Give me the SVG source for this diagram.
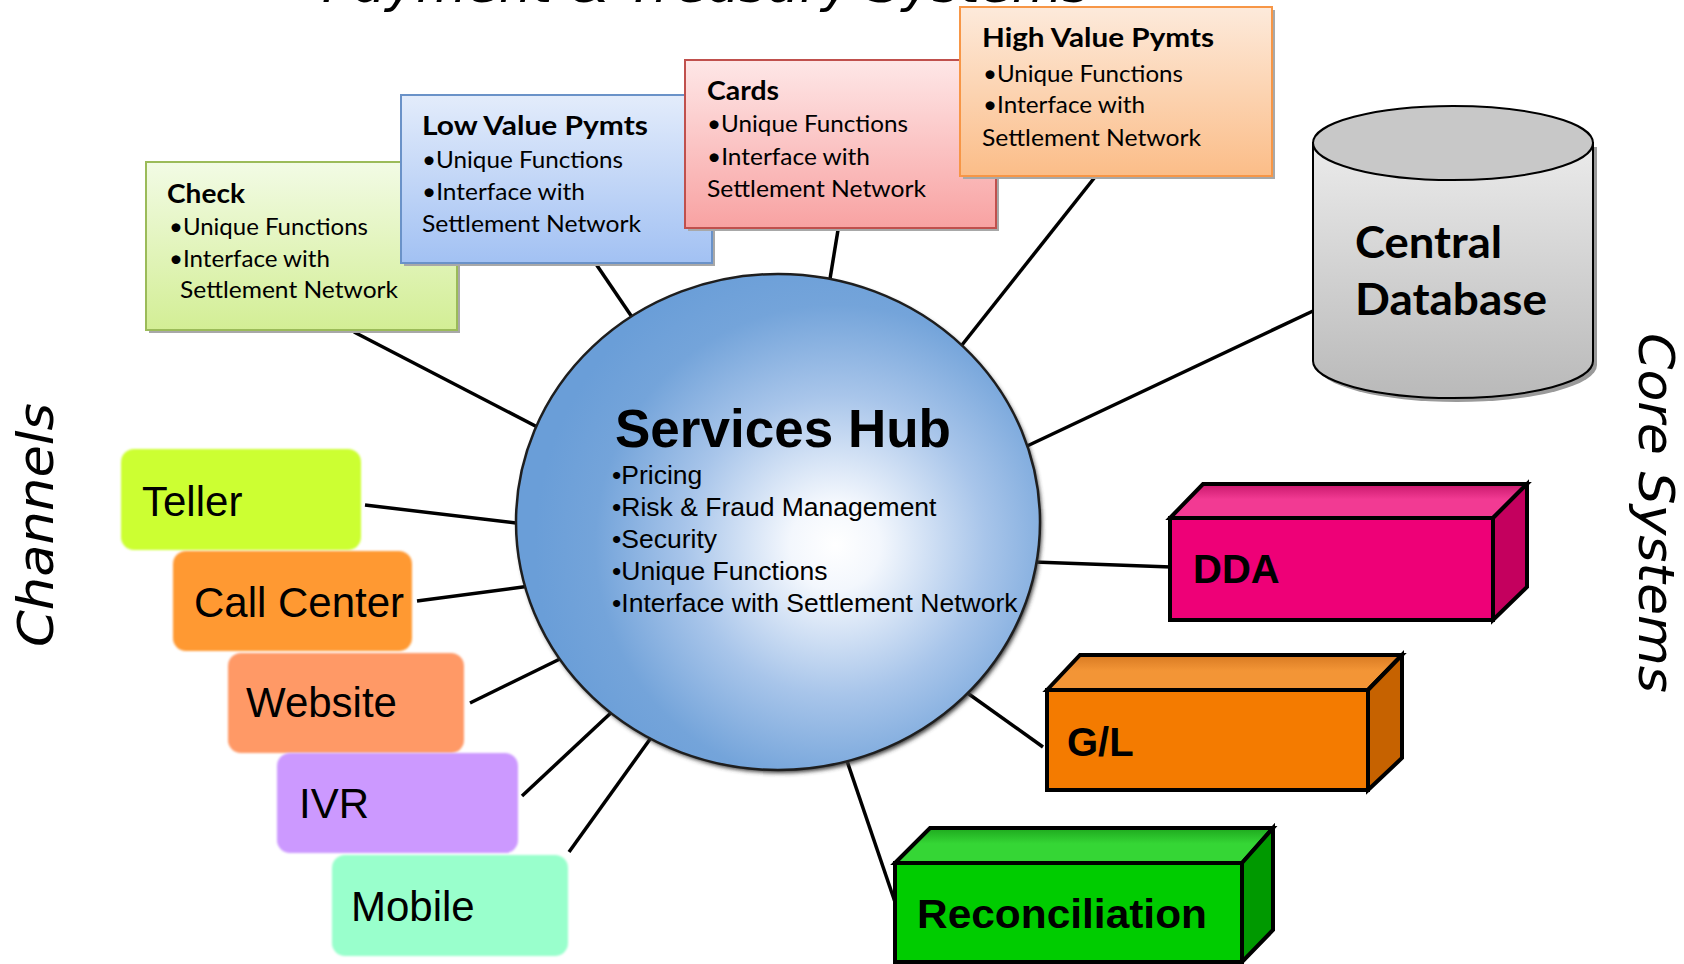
<svg xmlns="http://www.w3.org/2000/svg" width="1684" height="964" viewBox="0 0 1684 964">
<defs>
<style>
.conn{stroke:#000;stroke-width:3.5;fill:none}
.pt{font-family:Lato,"Open Sans","Liberation Sans",sans-serif;fill:#000}
.h{font-weight:bold;font-size:26px}
.b{font-size:24px}
.ch{font-family:"Liberation Sans",Arial,sans-serif;font-size:42px;fill:#000}
.cs{font-family:"Liberation Sans",Arial,sans-serif;font-weight:bold;font-size:40px;fill:#000}
.hubt{font-family:"Liberation Sans",Arial,sans-serif;fill:#000}
.lbl{font-family:"DejaVu Sans",sans-serif;font-style:italic;font-weight:200;font-size:50px;fill:#000}
.cube{stroke:#000;stroke-width:4;stroke-linejoin:miter}
.shd{fill:#a8a8a8}
.soft{filter:url(#soft)}
</style>
<linearGradient id="gCheck" x1="0" y1="0" x2="0" y2="1"><stop offset="0" stop-color="#f2fbe5"/><stop offset="1" stop-color="#d3ee95"/></linearGradient>
<linearGradient id="gLow" x1="0" y1="0" x2="0" y2="1"><stop offset="0" stop-color="#e3ecfb"/><stop offset="1" stop-color="#a2c1f3"/></linearGradient>
<linearGradient id="gCards" x1="0" y1="0" x2="0" y2="1"><stop offset="0" stop-color="#fee7e7"/><stop offset="1" stop-color="#f8a2a2"/></linearGradient>
<linearGradient id="gHigh" x1="0" y1="0" x2="0" y2="1"><stop offset="0" stop-color="#fdeadb"/><stop offset="1" stop-color="#fbbd88"/></linearGradient>
<linearGradient id="gDb" x1="0" y1="0" x2="0" y2="1"><stop offset="0" stop-color="#ebebeb"/><stop offset="1" stop-color="#b9b9b9"/></linearGradient>
<radialGradient id="gHub" gradientUnits="userSpaceOnUse" cx="835" cy="545" r="300" fx="835" fy="545"><stop offset="0" stop-color="#ffffff"/><stop offset="0.15" stop-color="#f3f7fd"/><stop offset="0.5" stop-color="#a8c5ea"/><stop offset="0.8" stop-color="#74a4da"/><stop offset="1" stop-color="#6a9ed8"/></radialGradient>
<linearGradient id="gTopDDA" x1="0" y1="0" x2="0" y2="1"><stop offset="0" stop-color="#c8186c"/><stop offset="0.45" stop-color="#f23a93"/><stop offset="1" stop-color="#f23a93"/></linearGradient>
<linearGradient id="gTopGL" x1="0" y1="0" x2="0" y2="1"><stop offset="0" stop-color="#d87a22"/><stop offset="0.45" stop-color="#f39536"/><stop offset="1" stop-color="#f39536"/></linearGradient>
<linearGradient id="gTopRec" x1="0" y1="0" x2="0" y2="1"><stop offset="0" stop-color="#1ea81e"/><stop offset="0.45" stop-color="#35d635"/><stop offset="1" stop-color="#35d635"/></linearGradient>
<filter id="soft" x="-5%" y="-5%" width="110%" height="110%"><feGaussianBlur stdDeviation="1.2"/></filter>
<filter id="hubShadow" x="-10%" y="-10%" width="120%" height="120%"><feGaussianBlur stdDeviation="2"/></filter>
</defs>

<rect width="1684" height="964" fill="#ffffff"/>

<g id="labels">
<text class="lbl" x="706" y="2" text-anchor="middle" textLength="768" lengthAdjust="spacingAndGlyphs">Payment &amp; Treasury Systems</text>
<text class="lbl" transform="translate(53,525) rotate(-90)" text-anchor="middle" textLength="244" lengthAdjust="spacingAndGlyphs">Channels</text>
<text class="lbl" transform="translate(1639,513) rotate(90)" text-anchor="middle" textLength="360" lengthAdjust="spacingAndGlyphs">Core Systems</text>
</g>

<g id="connectors">
<line class="conn" x1="354" y1="332" x2="545" y2="431"/>
<line class="conn" x1="596" y1="264" x2="634" y2="320"/>
<line class="conn" x1="838" y1="230" x2="829" y2="285"/>
<line class="conn" x1="1095" y1="177" x2="958" y2="350"/>
<line class="conn" x1="1313" y1="311" x2="1025" y2="447"/>
<line class="conn" x1="1171" y1="567" x2="1034" y2="562"/>
<line class="conn" x1="1043" y1="747" x2="966" y2="692"/>
<line class="conn" x1="896" y1="905" x2="846" y2="758"/>
<line class="conn" x1="365" y1="505" x2="524" y2="524"/>
<line class="conn" x1="417" y1="601" x2="530" y2="586"/>
<line class="conn" x1="470" y1="703" x2="564" y2="657"/>
<line class="conn" x1="522" y1="796" x2="614" y2="710"/>
<line class="conn" x1="569" y1="852" x2="653" y2="735"/>
</g>

<g id="check">
<rect class="shd" x="149" y="165" width="311" height="168"/>
<rect x="146" y="162" width="311" height="168" fill="url(#gCheck)" stroke="#9bbb59" stroke-width="2"/>
<text class="pt h" x="167" y="203" textLength="78" lengthAdjust="spacingAndGlyphs">Check</text>
<text class="pt b" x="169" y="235" textLength="199" lengthAdjust="spacingAndGlyphs">•Unique Functions</text>
<text class="pt b" x="169" y="267" textLength="161" lengthAdjust="spacingAndGlyphs">•Interface with</text>
<text class="pt b" x="180" y="298" textLength="218" lengthAdjust="spacingAndGlyphs">Settlement Network</text>
</g>

<g id="low-value">
<rect class="shd" x="404" y="98" width="311" height="168"/>
<rect x="401" y="95" width="311" height="168" fill="url(#gLow)" stroke="#6a92c8" stroke-width="2"/>
<text class="pt h" x="422" y="135" textLength="226" lengthAdjust="spacingAndGlyphs">Low Value Pymts</text>
<text class="pt b" x="422" y="168" textLength="201" lengthAdjust="spacingAndGlyphs">•Unique Functions</text>
<text class="pt b" x="422" y="200" textLength="163" lengthAdjust="spacingAndGlyphs">•Interface with</text>
<text class="pt b" x="422" y="232" textLength="219" lengthAdjust="spacingAndGlyphs">Settlement Network</text>
</g>

<g id="cards">
<rect class="shd" x="688" y="63" width="311" height="168"/>
<rect x="685" y="60" width="311" height="168" fill="url(#gCards)" stroke="#c0504d" stroke-width="2"/>
<text class="pt h" x="707" y="100" textLength="72" lengthAdjust="spacingAndGlyphs">Cards</text>
<text class="pt b" x="707" y="132" textLength="201" lengthAdjust="spacingAndGlyphs">•Unique Functions</text>
<text class="pt b" x="707" y="165" textLength="163" lengthAdjust="spacingAndGlyphs">•Interface with</text>
<text class="pt b" x="707" y="197" textLength="219" lengthAdjust="spacingAndGlyphs">Settlement Network</text>
</g>

<g id="high-value">
<rect class="shd" x="963" y="10" width="312" height="169"/>
<rect x="960" y="7" width="312" height="169" fill="url(#gHigh)" stroke="#f79646" stroke-width="2"/>
<text class="pt h" x="982" y="47" textLength="232" lengthAdjust="spacingAndGlyphs">High Value Pymts</text>
<text class="pt b" x="983" y="82" textLength="200" lengthAdjust="spacingAndGlyphs">•Unique Functions</text>
<text class="pt b" x="983" y="113" textLength="162" lengthAdjust="spacingAndGlyphs">•Interface with</text>
<text class="pt b" x="982" y="146" textLength="219" lengthAdjust="spacingAndGlyphs">Settlement Network</text>
</g>

<g id="central-database">
<path d="M1317,147 V365 A140 37 0 0 0 1597 365 V147 Z" fill="#9a9a9a"/>
<path d="M1313,143 V361 A140 37 0 0 0 1593 361 V143 Z" fill="url(#gDb)" stroke="#000" stroke-width="2"/>
<ellipse cx="1453" cy="143" rx="140" ry="37" fill="#c8c8c8" stroke="#000" stroke-width="2"/>
<text class="pt" x="1355" y="258" font-size="44" font-weight="bold" textLength="147" lengthAdjust="spacingAndGlyphs">Central</text>
<text class="pt" x="1355" y="315" font-size="44" font-weight="bold" textLength="192" lengthAdjust="spacingAndGlyphs">Database</text>
</g>

<g id="services-hub">
<ellipse cx="780" cy="525" rx="262" ry="248" fill="#3a3a3a" filter="url(#hubShadow)"/>
<ellipse cx="778" cy="522" rx="262" ry="248" fill="url(#gHub)" stroke="#1e1e1e" stroke-width="2.5"/>
<text class="hubt" x="615" y="447" font-size="53" font-weight="bold" textLength="336" lengthAdjust="spacingAndGlyphs">Services Hub</text>
<text class="hubt" x="612" y="484" font-size="26.5">•Pricing</text>
<text class="hubt" x="612" y="516" font-size="26.5">•Risk &amp; Fraud Management</text>
<text class="hubt" x="612" y="548" font-size="26.5">•Security</text>
<text class="hubt" x="612" y="580" font-size="26.5">•Unique Functions</text>
<text class="hubt" x="612" y="612" font-size="26.5">•Interface with Settlement Network</text>
</g>

<g id="teller">
<rect class="soft" x="121" y="449" width="240" height="101" rx="13" fill="#ccff33"/>
<text class="ch" x="142" y="516">Teller</text>
</g>
<g id="call-center">
<rect class="soft" x="173" y="551" width="239" height="100" rx="13" fill="#ff9933"/>
<text class="ch" x="194" y="617">Call Center</text>
</g>
<g id="website">
<rect class="soft" x="228" y="653" width="236" height="100" rx="13" fill="#ff9966"/>
<text class="ch" x="246" y="717">Website</text>
</g>
<g id="ivr">
<rect class="soft" x="277" y="753" width="241" height="100" rx="13" fill="#cc99ff"/>
<text class="ch" x="299" y="818">IVR</text>
</g>
<g id="mobile">
<rect class="soft" x="332" y="855" width="236" height="101" rx="13" fill="#99ffcc"/>
<text class="ch" x="351" y="921">Mobile</text>
</g>

<g id="dda">
<polygon class="cube" points="1170,518 1203,484 1527,484 1493,518" fill="url(#gTopDDA)"/>
<polygon class="cube" points="1493,518 1527,484 1527,587 1493,620" fill="#c4005e"/>
<rect class="cube" x="1170" y="518" width="323" height="102" fill="#ee0077"/>
<text class="cs" x="1193" y="583">DDA</text>
</g>

<g id="gl">
<polygon class="cube" points="1047,690 1080,655 1402,655 1368,690" fill="url(#gTopGL)"/>
<polygon class="cube" points="1368,690 1402,655 1402,758 1368,790" fill="#c66200"/>
<rect class="cube" x="1047" y="690" width="321" height="100" fill="#f47b00"/>
<text class="cs" x="1067" y="756">G/L</text>
</g>

<g id="reconciliation">
<polygon class="cube" points="895,863 930,828 1273,828 1242,863" fill="url(#gTopRec)"/>
<polygon class="cube" points="1242,863 1273,828 1273,930 1242,962" fill="#009900"/>
<rect class="cube" x="895" y="863" width="347" height="99" fill="#00cc00"/>
<text class="cs" x="917" y="928" font-size="38" textLength="290" lengthAdjust="spacingAndGlyphs">Reconciliation</text>
</g>
</svg>
